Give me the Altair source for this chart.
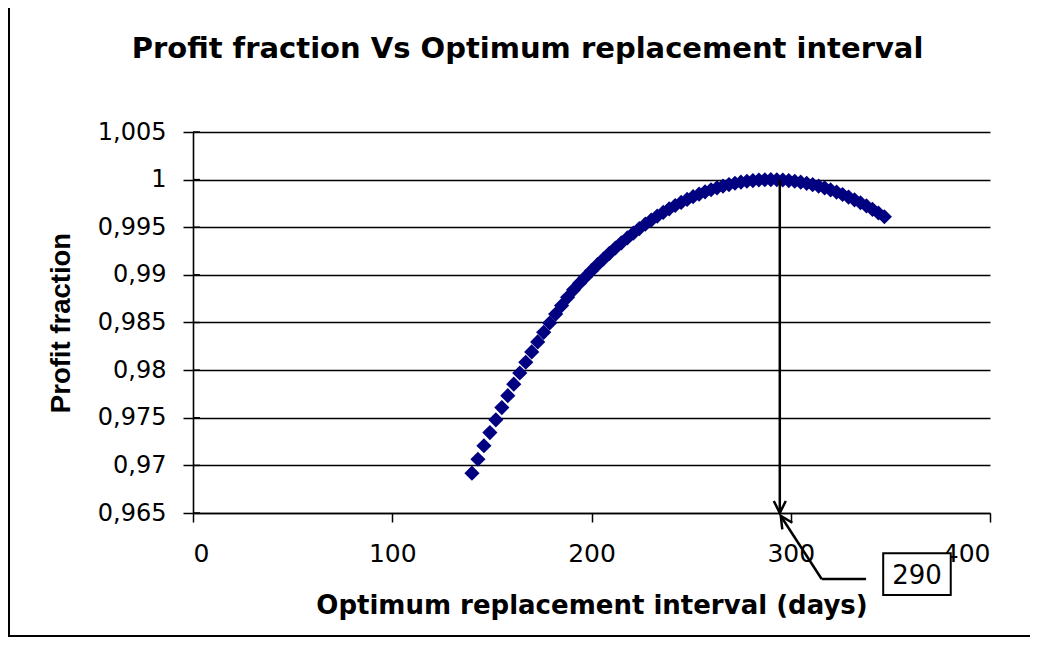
import altair as alt
import pandas as pd

# ---- data ----
days = [140, 143, 146, 149, 152, 155, 158, 161, 164, 167,
        170, 173, 176, 179, 182, 185, 188, 191, 194, 197,
        200, 203, 206, 209, 212, 215, 218, 221, 224, 227,
        230, 233, 236, 239, 242, 245, 248, 251, 254, 257,
        260, 263, 266, 269, 272, 275, 278, 281, 284, 287,
        290, 293, 296, 299, 302, 305, 308, 311, 314, 317,
        320, 323, 326, 329, 332, 335, 338, 341, 344, 347]
profit = [0.96918, 0.97064, 0.97206, 0.97344, 0.97478, 0.97607, 0.97732, 0.97853, 0.97970, 0.98083,
          0.98191, 0.98296, 0.98397, 0.98495, 0.98588, 0.98678, 0.98764, 0.98843, 0.98913, 0.98979,
          0.99044, 0.99107, 0.99167, 0.99226, 0.99282, 0.99336, 0.99388, 0.99438, 0.99486, 0.99532,
          0.99575, 0.99617, 0.99656, 0.99693, 0.99728, 0.99761, 0.99792, 0.99821, 0.99847, 0.99872,
          0.99894, 0.99914, 0.99932, 0.99948, 0.99962, 0.99973, 0.99983, 0.99990, 0.99996, 0.99999,
          1.00000, 0.99999, 0.99996, 0.99990, 0.99983, 0.99973, 0.99961, 0.99947, 0.99931, 0.99913,
          0.99892, 0.99869, 0.99844, 0.99817, 0.99788, 0.99757, 0.99724, 0.99688, 0.99650, 0.99610]

x_ticks = [0, 100, 200, 300, 400]
y_ticks = [0.965, 0.97, 0.975, 0.98, 0.985, 0.99, 0.995, 1.0, 1.005]

title_text = "Profit fraction Vs Optimum replacement interval"
x_title = "Optimum replacement interval (days)"
y_title = "Profit fraction"

optimum_label = "290"
optimum_line_x = [294.5]
optimum_line_y = [1.0]
optimum_line_y2 = [0.965]
leader_x = [295.0, 315.5]
leader_y = [0.96469, 0.95807]
leader_x2 = [315.5, 337.8]
leader_y2 = [0.95807, 0.95807]
box_x = [346.4]
box_x2 = [380.3]
box_y = [0.96077]
box_y2 = [0.95639]
label_x = [363.4]
label_y = [0.95842]

W, H = 797, 381
PAD_L, PAD_T, PAD_R, PAD_B = 185, 124, 40, 124

df = pd.DataFrame({"days": days, "profit": profit})
ticks_df = pd.DataFrame({"profit": y_ticks})

xs = alt.Scale(domain=[0, 400], nice=False, zero=False)
ys = alt.Scale(domain=[0.965, 1.005], nice=False, zero=False)

x_axis = alt.Axis(
    values=x_ticks, title=x_title, grid=False,
    labelFont="DejaVu Sans", labelFontSize=25, labelColor="black", labelPadding=19,
    tickColor="black", tickSize=9, tickWidth=1.5,
    domainColor="black", domainWidth=1.5,
    titleFont="DejaVu Sans", titleFontSize=26, titleFontWeight="bold",
    titleColor="black", titlePadding=26)
y_axis = alt.Axis(
    values=y_ticks, title=y_title,
    labelExpr="replace(format(datum.value, '.3~f'), '.', ',')",
    grid=True, gridColor="black", gridWidth=1.6, gridOpacity=1,
    labelFont="DejaVu Sans", labelFontSize=24, labelColor="black", labelPadding=17,
    tickColor="black", tickSize=10, tickWidth=1.5,
    domainColor="black", domainWidth=1.6,
    titleFont="Liberation Sans", titleFontSize=27.5, titleFontWeight="bold",
    titleColor="black", titlePadding=22)

points = alt.Chart(df).mark_point(
    shape="diamond", filled=True, size=230, color="#000080", opacity=1
).encode(
    x=alt.X("days:Q", scale=xs, axis=x_axis),
    y=alt.Y("profit:Q", scale=ys, axis=y_axis),
)

inner_ticks = alt.Chart(ticks_df).mark_rule(color="black", strokeWidth=1.5).encode(
    y=alt.Y("profit:Q", scale=ys, axis=y_axis),
    x=alt.value(0), x2=alt.value(7),
)

vline_df = pd.DataFrame({"days": optimum_line_x, "profit": optimum_line_y, "y2": optimum_line_y2})
vline = alt.Chart(vline_df).mark_rule(color="black", strokeWidth=2.5).encode(
    x=alt.X("days:Q", scale=xs, axis=x_axis),
    y=alt.Y("profit:Q", scale=ys, axis=y_axis), y2="y2:Q",
)
down_head = alt.Chart(vline_df).mark_point(
    shape="M-0.5,-1L0,0L0.5,-1", filled=False, size=576, color="black", strokeWidth=2.5, opacity=1
).encode(
    x=alt.X("days:Q", scale=xs, axis=x_axis),
    y=alt.Y("y2:Q", scale=ys, axis=y_axis),
)

leader_df = pd.DataFrame({"days": leader_x, "profit": leader_y, "x2": leader_x2, "y2": leader_y2})
leader = alt.Chart(leader_df).mark_rule(color="black", strokeWidth=2.5).encode(
    x=alt.X("days:Q", scale=xs, axis=x_axis), x2="x2:Q",
    y=alt.Y("profit:Q", scale=ys, axis=y_axis), y2="y2:Q",
)
tip_df = pd.DataFrame({"days": leader_x[:1], "profit": leader_y[:1]})
diag_head = alt.Chart(tip_df).mark_point(
    shape="M-0.5,1L0,0L0.5,1", filled=False, size=576, color="black", strokeWidth=2.5,
    opacity=1, angle=327
).encode(
    x=alt.X("days:Q", scale=xs, axis=x_axis),
    y=alt.Y("profit:Q", scale=ys, axis=y_axis),
)

box_df = pd.DataFrame({"days": box_x, "x2": box_x2, "profit": box_y, "y2": box_y2})
box = alt.Chart(box_df).mark_rect(fill="white", stroke="black", strokeWidth=2).encode(
    x=alt.X("days:Q", scale=xs, axis=x_axis), x2="x2:Q",
    y=alt.Y("profit:Q", scale=ys, axis=y_axis), y2="y2:Q",
)
lab_df = pd.DataFrame({"days": label_x, "profit": label_y, "t": [optimum_label]})
lab = alt.Chart(lab_df).mark_text(
    font="DejaVu Sans", fontSize=26, color="black", align="center", baseline="middle"
).encode(
    x=alt.X("days:Q", scale=xs, axis=x_axis),
    y=alt.Y("profit:Q", scale=ys, axis=y_axis),
    text="t:N",
)

# outer frame of the picture (left and bottom edges)
frame_left = alt.Chart(ticks_df.head(1)).mark_rule(color="black", strokeWidth=2).encode(
    x=alt.value(-PAD_L + 1), y=alt.value(-PAD_T), y2=alt.value(H + PAD_B),
)
frame_bottom = alt.Chart(ticks_df.head(1)).mark_rule(color="black", strokeWidth=2).encode(
    x=alt.value(-PAD_L + 1), x2=alt.value(W + PAD_R), y=alt.value(H + PAD_B - 1),
)

chart = alt.layer(
    points, inner_ticks, vline, down_head, leader, diag_head, box, lab, frame_left, frame_bottom
).properties(
    width=W, height=H,
    padding={"left": PAD_L, "top": PAD_T, "right": PAD_R, "bottom": PAD_B},
    autosize=alt.AutoSizeParams(type="none"),
    background="white",
    title=alt.TitleParams(
        title_text, font="DejaVu Sans", fontSize=29, fontWeight="bold", color="black",
        anchor="middle", baseline="alphabetic", dx=-64, dy=80, offset=0,
    ),
).configure_view(stroke=None)

chart.save("out.html", embed_options={"renderer": "svg", "actions": False})
